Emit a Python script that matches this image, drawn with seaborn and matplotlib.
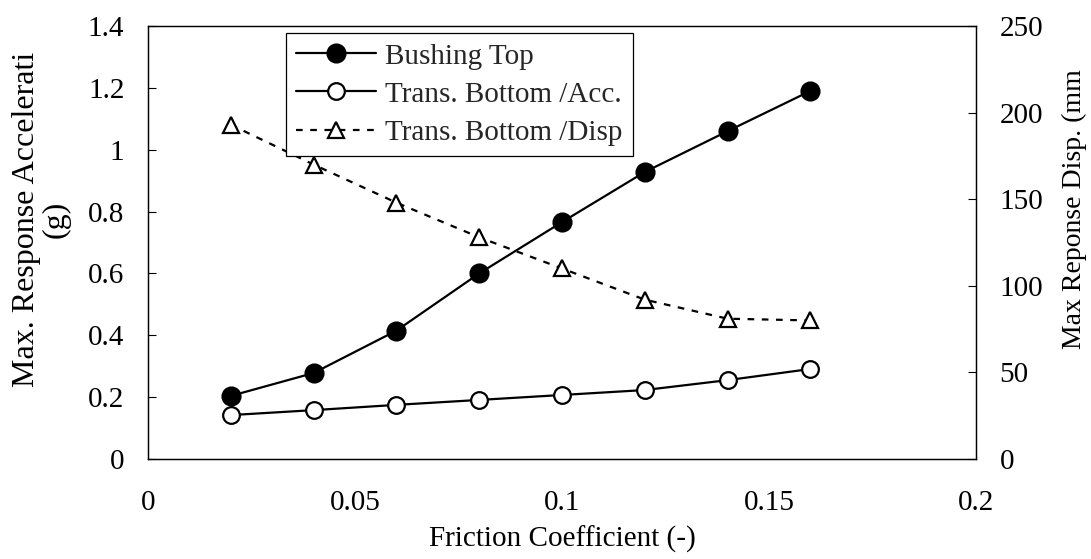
import numpy as np
import pandas as pd
import matplotlib
matplotlib.use("Agg")
import matplotlib.pyplot as plt
from matplotlib.ticker import FuncFormatter
import seaborn as sns

# friction coefficient (x axis)
friction = [0.02, 0.04, 0.06, 0.08, 0.10, 0.12, 0.14, 0.16]
# max response acceleration (g), left axis
bushing_top = [0.204, 0.278, 0.415, 0.600, 0.766, 0.928, 1.060, 1.190]
trans_bottom_acc = [0.142, 0.158, 0.175, 0.191, 0.207, 0.223, 0.255, 0.291]
# max response displacement (mm), right axis
trans_bottom_disp = [193, 170, 148, 128, 110, 92, 81, 80]

x_ticks = [0, 0.05, 0.1, 0.15, 0.2]
left_ticks = [0, 0.2, 0.4, 0.6, 0.8, 1.0, 1.2, 1.4]
right_ticks = [0, 50, 100, 150, 200, 250]

sns.set_style("white")
plt.rcParams['font.family'] = ['Liberation Serif', 'DejaVu Serif']
FS = 21

df = pd.DataFrame({
    'mu': friction,
    'top': bushing_top,
    'acc': trans_bottom_acc,
    'disp': trans_bottom_disp,
})

fig = plt.figure(figsize=(10.91, 5.59), dpi=100)
ax = fig.add_axes([148 / 1091, 1 - 459 / 559, 828 / 1091, 433 / 559])
ax2 = ax.twinx()

sns.lineplot(data=df, x='mu', y='top', ax=ax, color='black', linewidth=1.6,
             marker='o', markersize=13, markerfacecolor='black',
             markeredgecolor='black', markeredgewidth=1.5,
             label='Bushing Top', legend=False)
sns.lineplot(data=df, x='mu', y='acc', ax=ax, color='black', linewidth=1.6,
             marker='o', markersize=12, markerfacecolor='white',
             markeredgecolor='black', markeredgewidth=1.6,
             label='Trans. Bottom /Acc.', legend=False)
sns.lineplot(data=df, x='mu', y='disp', ax=ax2, color='black', linewidth=1.6,
             linestyle=(0, (3.0, 3.4)),
             marker='^', markersize=12, markerfacecolor='white',
             markeredgecolor='black', markeredgewidth=1.6,
             label='Trans. Bottom /Disp', legend=False)

fmt = FuncFormatter(lambda v, p: f'{v:g}')

ax.set_xlim(0, 0.2)
ax.set_ylim(0, 1.4)
ax2.set_ylim(0, 250)
ax.set_xticks(x_ticks)
ax.set_yticks(left_ticks)
ax2.set_yticks(right_ticks)
ax.xaxis.set_major_formatter(fmt)
ax.yaxis.set_major_formatter(fmt)
ax2.yaxis.set_major_formatter(fmt)

ax.tick_params(axis='both', direction='in', length=6, width=0.8,
               labelsize=FS, color='black', labelcolor='black')
ax.tick_params(axis='x', pad=22)
ax.tick_params(axis='y', pad=17)
ax2.tick_params(axis='y', direction='in', length=6, width=0.8,
                labelsize=FS, pad=17, color='black', labelcolor='black')

for a in (ax, ax2):
    for s in a.spines.values():
        s.set_color('black')
        s.set_linewidth(0.9)

ax.set_xlabel('Friction Coefficient (-)', fontsize=FS, color='black')
ax.set_ylabel('Max. Response Accelerati\n(g)', fontsize=23, color='black',
              multialignment='center', linespacing=1.05)
ax2.set_ylabel('Max Reponse Disp. (mm', fontsize=20, color='black')
ax.xaxis.set_label_coords(0.5, -0.155)
ax.yaxis.set_label_coords(-0.093, 0.553)
ax2.yaxis.set_label_coords(1.104, 0.577)

h1, l1 = ax.get_legend_handles_labels()
h2, l2 = ax2.get_legend_handles_labels()
leg = ax2.legend(h1 + h2, l1 + l2, loc='upper left',
                 bbox_to_anchor=(0.1667, 0.984), fontsize=FS,
                 frameon=True, fancybox=False, framealpha=1,
                 edgecolor='black', handlelength=2.75, handletextpad=0.3,
                 borderpad=0.35, labelspacing=0.4, borderaxespad=0)
leg.get_frame().set_linewidth(0.9)

fig.savefig('out.png', dpi=100)
